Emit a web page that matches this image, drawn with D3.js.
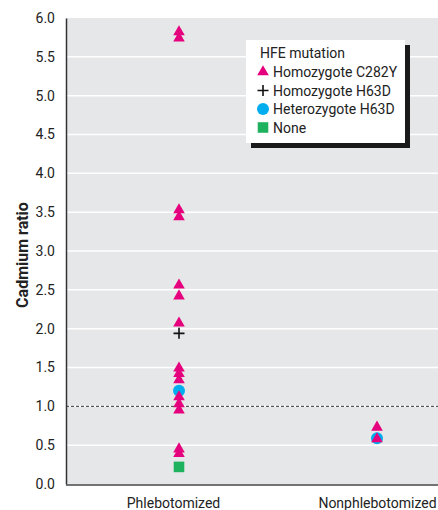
<!DOCTYPE html>
<html>
<head>
<meta charset="utf-8">
<script src="https://cdn.jsdelivr.net/npm/d3@7"></script>
<style>
  body { margin: 0; background: #fff; }
  text { font-family: Roboto, "Liberation Sans", sans-serif; }
</style>
</head>
<body>
<div id="chart"></div>
<script>
// categories and series values (cadmium ratio)
const groups = ["Phlebotomized", "Nonphlebotomized"]
const yTicks = [0, 0.5, 1, 1.5, 2, 2.5, 3, 3.5, 4, 4.5, 5, 5.5, 6]

const c282yPhleb = [5.82, 5.74, 3.53, 3.44, 2.56, 2.42, 2.07, 1.49, 1.42, 1.34, 1.12, 1.03, 0.95, 0.45, 0.39]
const c282yNonphleb = [0.73, 0.58]
const h63dHomoPhleb = [1.94]
const h63dHetPhleb = [1.20]
const h63dHetNonphleb = [0.59]
const nonePhleb = [0.22]

const legendLabels = ["Homozygote C282Y", "Homozygote H63D", "Heterozygote H63D", "None"]

const W = 438, H = 510
const margin = { top: 18, right: 0, bottom: 26, left: 66 }
const pink = "#e5007d", blue = "#00aeef", green = "#1fb25e"

const svg = d3.select("#chart").append("svg")
    .attr("width", W)
    .attr("height", H)

const y = d3.scaleLinear()
    .domain([0, 6])
    .range([H - margin.bottom, margin.top])

const x = d3.scalePoint()
    .domain(groups)
    .range([179, 377])

// plot background
svg.append("rect")
    .attr("x", margin.left)
    .attr("y", margin.top)
    .attr("width", W - margin.left - margin.right)
    .attr("height", y(0) - margin.top)
    .attr("fill", "#e6e7e8")

// white grid lines
svg.append("g")
    .selectAll("line")
    .data(yTicks.filter(d => d > 0 && d < 6))
    .enter()
    .append("line")
    .attr("x1", margin.left)
    .attr("x2", W)
    .attr("y1", d => y(d))
    .attr("y2", d => y(d))
    .attr("stroke", "#fff")
    .attr("stroke-width", 1.5)

// reference line at 1.0
svg.append("line")
    .attr("x1", margin.left)
    .attr("x2", W)
    .attr("y1", y(1))
    .attr("y2", y(1))
    .attr("stroke", "#333")
    .attr("stroke-width", 1)
    .attr("stroke-dasharray", "3,2")

// Y axis
const yAxis = d3.axisLeft(y)
    .tickValues(yTicks)
    .tickFormat(d3.format(".1f"))
    .tickSize(0)
    .tickPadding(11)

const gy = svg.append("g")
    .attr("transform", "translate(" + margin.left + ",0)")
    .call(yAxis)
gy.select(".domain").attr("stroke", "#333").attr("stroke-width", 1.5)
gy.selectAll(".tick text").attr("font-size", 14).attr("fill", "#222")
    .attr("font-family", "Roboto, sans-serif")

// X axis
const xAxis = d3.axisBottom(x)
    .tickSize(0)
    .tickPadding(13)

const gx = svg.append("g")
    .attr("transform", "translate(0," + (y(0) + 1) + ")")
    .call(xAxis)
gx.select(".domain")
    .attr("d", "M" + margin.left + ",0H" + W)
    .attr("stroke", "#444")
    .attr("stroke-width", 1.5)
gx.selectAll(".tick text").attr("font-size", 14).attr("fill", "#222")
    .attr("font-family", "Roboto, sans-serif")
    .attr("dx", (d, i) => i === 0 ? -6 : 0)

// axis title
svg.append("text")
    .attr("transform", "translate(28," + 255 + ") rotate(-90)")
    .attr("text-anchor", "middle")
    .attr("font-size", 16)
    .attr("font-weight", "bold")
    .attr("fill", "#222")
    .text("Cadmium ratio")

const tri = d3.symbol().type(d3.symbolTriangle).size(58)
const sq = d3.symbol().type(d3.symbolSquare).size(112)
const plus = "M-5.5,0H5.5M0,-5.5V5.5"

const marks = svg.append("g")

// none
marks.selectAll(".none")
    .data(nonePhleb.map(v => ({ g: groups[0], v })))
    .enter().append("path")
    .attr("d", sq)
    .attr("transform", d => "translate(" + x(d.g) + "," + y(d.v) + ")")
    .attr("fill", green)

// heterozygote H63D
marks.selectAll(".het")
    .data(h63dHetPhleb.map(v => ({ g: groups[0], v })).concat(h63dHetNonphleb.map(v => ({ g: groups[1], v }))))
    .enter().append("circle")
    .attr("cx", d => x(d.g))
    .attr("cy", d => y(d.v))
    .attr("r", 6)
    .attr("fill", blue)

// homozygote H63D
marks.selectAll(".homo")
    .data(h63dHomoPhleb.map(v => ({ g: groups[0], v })))
    .enter().append("path")
    .attr("d", plus)
    .attr("transform", d => "translate(" + x(d.g) + "," + y(d.v) + ")")
    .attr("stroke", "#111")
    .attr("stroke-width", 1.6)
    .attr("fill", "none")

// homozygote C282Y
marks.selectAll(".c282y")
    .data(c282yPhleb.map(v => ({ g: groups[0], v })).concat(c282yNonphleb.map(v => ({ g: groups[1], v }))))
    .enter().append("path")
    .attr("d", tri)
    .attr("transform", d => "translate(" + x(d.g) + "," + y(d.v) + ")")
    .attr("fill", pink)

// legend
const lg = svg.append("g").attr("transform", "translate(246,40)")
lg.append("rect")
    .attr("x", 5).attr("y", 5)
    .attr("width", 159).attr("height", 103)
    .attr("fill", "#1a1a1a")
lg.append("rect")
    .attr("width", 159).attr("height", 103)
    .attr("fill", "#fff")
lg.append("text")
    .attr("x", 14).attr("y", 18)
    .attr("font-size", 14)
    .attr("fill", "#222")
    .text("HFE mutation")

const rows = lg.selectAll(".row")
    .data(legendLabels)
    .enter().append("g")
    .attr("transform", (d, i) => "translate(17," + (37 + i * 18.5) + ")")

rows.append("text")
    .attr("x", 10).attr("y", 0)
    .attr("font-size", 14)
    .attr("fill", "#222")
    .text(d => d)

rows.each(function (d, i) {
    const r = d3.select(this)
    if (i === 0) r.append("path").attr("d", tri).attr("transform", "translate(0,-5)").attr("fill", pink)
    if (i === 1) r.append("path").attr("d", plus).attr("transform", "translate(0,-5)")
        .attr("stroke", "#111").attr("stroke-width", 1.6)
    if (i === 2) r.append("circle").attr("cx", 0).attr("cy", -5).attr("r", 6).attr("fill", blue)
    if (i === 3) r.append("path").attr("d", sq).attr("transform", "translate(0,-5)").attr("fill", green)
})
</script>
</body>
</html>
